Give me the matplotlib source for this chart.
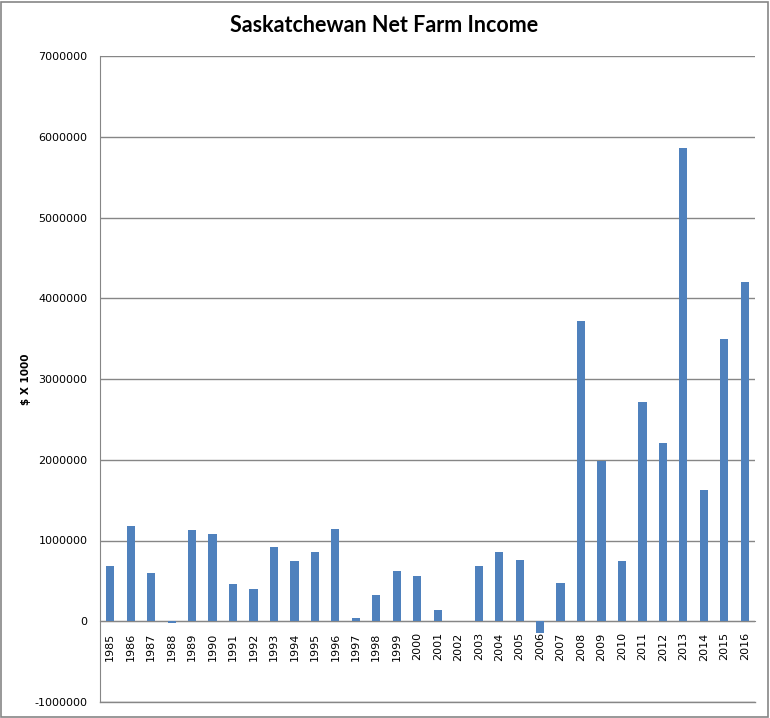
import matplotlib.pyplot as plt
from matplotlib.patches import Rectangle

# Net farm income, $ x 1000
years = [str(y) for y in range(1985, 2017)]
income = [683000, 1177000, 597000, -20000, 1128000, 1078000, 461000, 399000,
          918000, 745000, 856000, 1140000, 45000, 325000, 621000, 560000,
          140000, 0, 683000, 856000, 757000, -148000, 473000, 3720000,
          1980000, 745000, 2710000, 2210000, 5860000, 1630000, 3500000, 4200000]

bar_color = '#4F81BD'
grid_color = '#868686'

fig = plt.figure(figsize=(7.7, 7.18), dpi=100)
ax = fig.add_axes([100 / 770, 16 / 718, 655 / 770, 646 / 718])

x = range(len(years))
ax.bar(x, income, width=0.4, color=bar_color, zorder=3)

ax.set_xlim(-0.5, len(years) - 0.5)
ax.set_ylim(-1000000, 7000000)
ax.set_yticks(range(-1000000, 7000001, 1000000))
ax.set_yticklabels([str(v) for v in range(-1000000, 7000001, 1000000)], fontsize=8)
ax.yaxis.grid(True, color=grid_color, linewidth=1, zorder=0)
ax.axhline(-1000000, color=grid_color, linewidth=1, clip_on=False, zorder=0)

# category axis sits at zero like in Excel
ax.spines['bottom'].set_position(('data', 0))
ax.spines['bottom'].set_color(grid_color)
ax.spines['left'].set_color(grid_color)
ax.spines['top'].set_visible(False)
ax.spines['right'].set_visible(False)
ax.set_xticks(list(x))
ax.set_xticklabels(years, rotation=90, fontsize=8)
ax.tick_params(axis='both', length=0)
ax.tick_params(axis='x', pad=8)
ax.tick_params(axis='y', pad=9)

ax.set_ylabel('$ X 1000', fontsize=7.5, fontweight='bold')
ax.yaxis.set_label_coords(-0.105, 0.5)
fig.text(384 / 770, 1 - 26 / 718, 'Saskatchewan Net Farm Income', ha='center', va='center',
         fontsize=15.5, fontweight='bold', family='Lato')

# chart border
fig.patches.append(Rectangle((0.001, 0.002), 0.996, 0.995, transform=fig.transFigure,
                             fill=False, edgecolor=grid_color, linewidth=1.2))

fig.savefig('out.png', dpi=100)
